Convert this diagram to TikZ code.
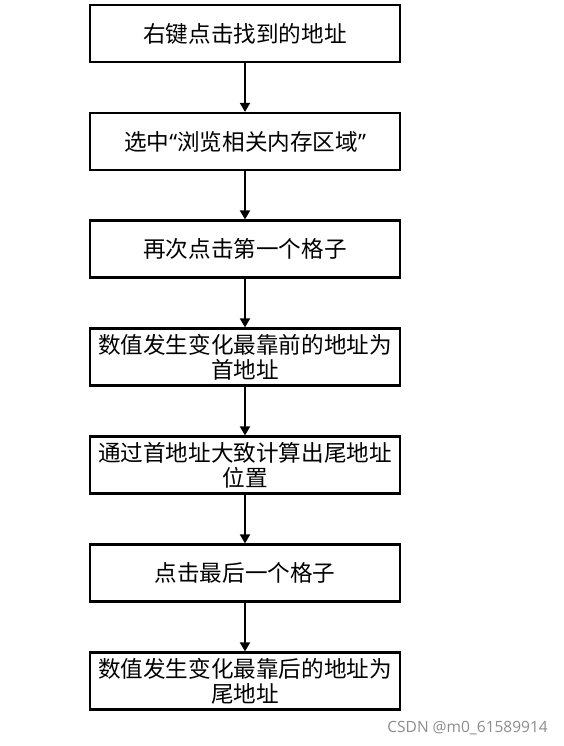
\documentclass[tikz,border=0pt]{standalone}
\usepackage{fontspec}
\newfontfamily\cjk{Noto Sans CJK SC}
\newfontfamily\wm{Open Sans}
\usetikzlibrary{arrows.meta}
\begin{document}
\begin{tikzpicture}[x=1pt,y=-1pt,
  stepbox/.style={draw=black,line width=2.2pt,minimum width=310pt,minimum height=57pt,inner sep=0pt,align=center,font=\cjk\fontsize{22.6}{25}\selectfont,text width=302pt},
  conn/.style={line width=1.8pt,-{Triangle[length=9pt,width=10pt]}}]
\useasboundingbox (0,0) rectangle (563,746);
\node[stepbox] (b1) at (245,33.5) {右键点击找到的地址};
\node[stepbox] (b2) at (245,141.5) {选中{\wm “}浏览相关内存区域{\wm ”}};
\node[stepbox] (b3) at (245,249) {再次点击第一个格子};
\node[stepbox] (b4) at (245,357) {数值发生变化最靠前的地址为\\首地址};
\node[stepbox] (b5) at (245,465) {通过首地址大致计算出尾地址\\位置};
\node[stepbox] (b6) at (245,573) {点击最后一个格子};
\node[stepbox] (b7) at (245,681) {数值发生变化最靠后的地址为\\尾地址};
\draw[conn] (b1) -- (b2);
\draw[conn] (b2) -- (b3);
\draw[conn] (b3) -- (b4);
\draw[conn] (b4) -- (b5);
\draw[conn] (b5) -- (b6);
\draw[conn] (b6) -- (b7);
\node[font=\wm\fontsize{15.5}{17}\selectfont,text=black!45,anchor=east,inner sep=0pt] (wm) at (548,728) {CSDN @m0\_61589914};
\end{tikzpicture}
\end{document}
